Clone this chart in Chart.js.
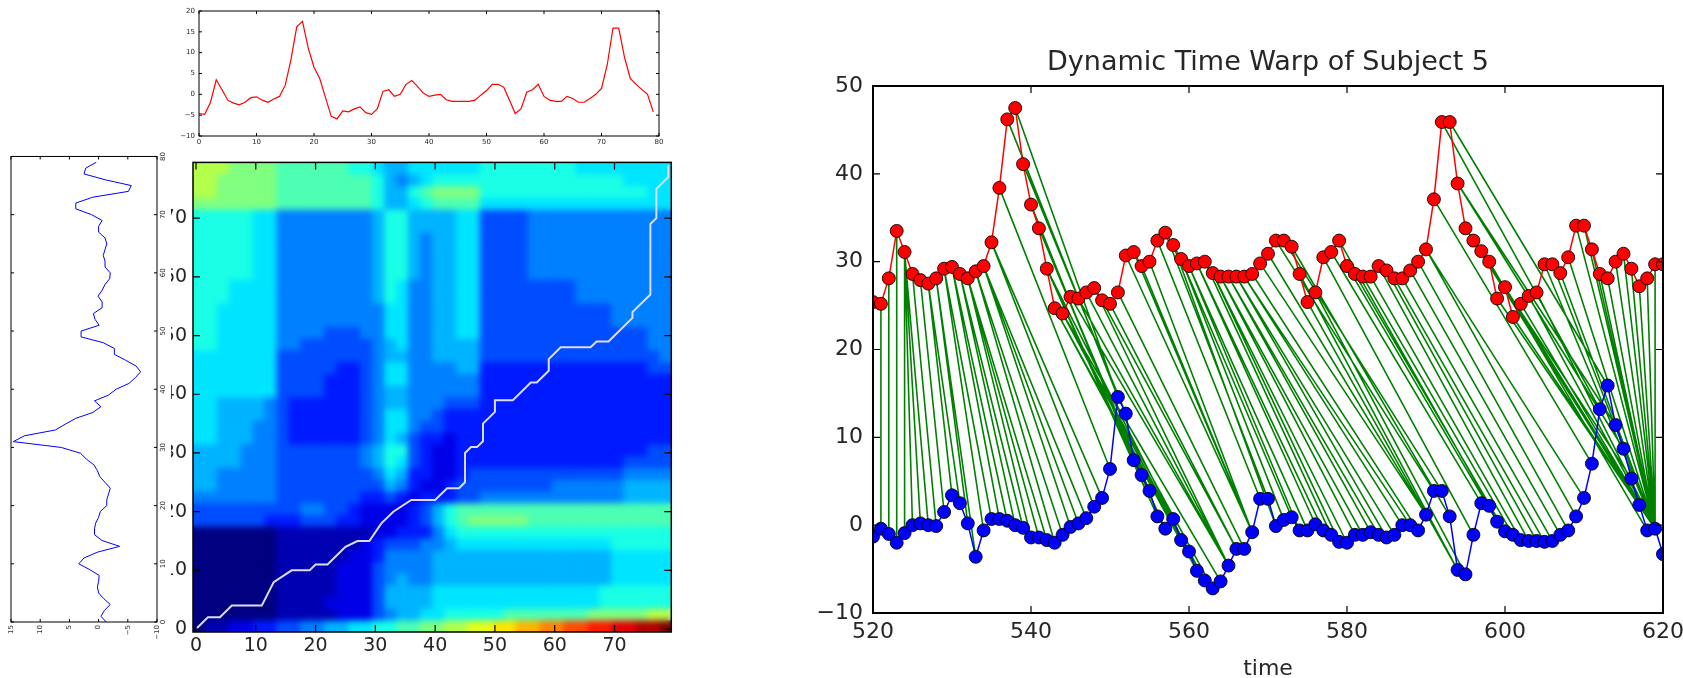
<!DOCTYPE html>
<html>
<head>
<meta charset="utf-8">
<script src="https://cdn.jsdelivr.net/npm/chart.js@4.4.0/dist/chart.umd.min.js"></script>
<style>
html, body { margin: 0; padding: 0; background: #fff; overflow: hidden; }
body { width: 1683px; height: 678px; position: relative; }
canvas { position: absolute; }
#heat { left: 150px; top: 145px; }
#top { left: 160px; top: 0px; }
#leftWrap { position: absolute; left: 0; top: 150px; width: 490px; height: 171px; background: #fff;
  transform-origin: 0 0; transform: translate(0, 490px) rotate(-90deg); }
#left { left: 0; top: 0; }
#dtw { left: 780px; top: 0px; }
</style>
</head>
<body>
<canvas id="heat" width="530" height="515"></canvas>
<canvas id="top" width="510" height="150"></canvas>
<div id="leftWrap"><canvas id="left" width="490" height="171"></canvas></div>
<canvas id="dtw" width="920" height="682"></canvas>
<script>
// raw series, t = 520 .. 620
const timeStart = 520;
const redOffset = 30;
const redSeries = [
  -4.6, -4.8, -1.9, 3.5, 1.1, -1.4, -2.1, -2.5, -1.9, -0.8,
  -0.6, -1.4, -1.9, -1.1, -0.5, 2.2, 8.4, 16.2, 17.5, 11.1,
  6.5, 3.8, -0.8, -5.3, -5.9, -4.0, -4.2, -3.5, -3.0, -4.4,
  -4.8, -3.5, 0.7, 1.1, -0.5, 0.0, 2.4, 3.3, 1.9, 0.3,
  -0.5, -0.2, 0.0, -1.3, -1.7, -1.7, -1.7, -1.7, -1.4, -0.2,
  0.9, 2.4, 2.4, 1.7, -1.4, -4.6, -3.5, 0.5, 1.1, 2.4,
  -0.5, -1.4, -1.7, -1.7, -0.5, -1.0, -1.9, -1.9, -1.0, 0.0,
  1.4, 7.1, 15.9, 15.9, 8.9, 3.8, 2.4, 1.2, 0.0, -4.2,
  -2.9, -6.3, -4.8, -3.9, -3.5, -0.3, -0.3, -1.3, 0.5, 4.1,
  4.1, 1.4, -1.4, -1.9, 0.0, 0.9, -0.8, -2.8, -1.9, -0.3,
  -0.3
];
const blueSeries = [
  -1.3, -0.4, -1.0, -2.0, -0.9, 0.0, 0.2, 0.0, -0.1, 1.5,
  3.4, 2.5, 0.2, -3.6, -0.6, 0.7, 0.7, 0.5, 0.0, -0.3,
  -1.4, -1.4, -1.7, -2.0, -1.1, -0.2, 0.2, 0.8, 2.1, 3.1,
  6.4, 14.6, 12.7, 7.4, 5.7, 3.9, 1.0, -0.4, 0.7, -1.7,
  -3.0, -5.2, -6.3, -7.2, -6.4, -4.6, -2.7, -2.7, -0.8, 3.0,
  3.0, -0.1, 0.6, 0.9, -0.6, -0.6, 0.1, -0.6, -1.1, -1.9,
  -2.0, -1.1, -1.1, -0.8, -1.1, -1.4, -1.1, 0.0, 0.0, -0.6,
  1.2, 3.9, 3.9, 1.0, -5.1, -5.6, -1.1, 2.5, 2.2, 0.4,
  -0.7, -1.1, -1.7, -1.8, -1.8, -1.9, -1.8, -1.1, -0.6, 1.0,
  3.1, 7.0, 13.2, 15.9, 11.4, 8.7, 5.3, 2.3, -0.6, -0.4,
  -3.3
];

// warping path of the right panel (offsets from 520)
const warpRed = [
  0, 1, 2, 3, 4, 4, 4, 4, 5, 6, 7, 7, 8, 8, 9, 9, 10, 10, 11, 11,
  12, 12, 12, 13, 13, 14, 14, 14, 15, 15,
  16, 17, 18, 19, 20, 21, 21, 22, 22, 22,
  23, 23, 23, 24, 24, 24, 25, 26, 27, 28, 29, 30, 31, 32, 33, 34, 35, 36, 37,
  38, 39, 39, 40, 40, 41, 41, 42, 43, 43, 44, 44, 45, 45, 46, 46, 47, 47, 48,
  49, 50, 51, 52, 53, 54, 55, 56, 57, 58, 59,
  60, 61, 62, 63, 64, 65, 66, 67, 68, 69,
  70, 70, 71, 72, 73, 74, 74, 75, 76, 77, 78,
  79, 80, 81, 82, 83, 84, 85, 86, 87, 88, 89, 90, 91, 92, 93, 94, 95, 96, 97, 98, 99, 100
];
const warpBlue = [
  0, 1, 2, 3, 4, 5, 6, 7, 8, 9, 10, 11, 12, 13, 14, 15, 16, 17, 18, 19,
  20, 21, 22, 23, 24, 25, 26, 27, 28, 29,
  30, 31, 31, 32, 33, 34, 35, 36, 37, 38,
  39, 40, 41, 42, 43, 44, 45, 45, 45, 45, 46, 46, 47, 48, 48, 48, 48, 49, 50,
  51, 52, 53, 54, 55, 56, 57, 58, 59, 60, 61, 62, 63, 64, 65, 66, 67, 68, 69,
  70, 70, 71, 72, 73, 74, 74, 75, 76, 77, 78,
  79, 80, 81, 82, 83, 84, 85, 86, 87, 88,
  89, 90, 91, 92, 93, 94, 95, 96, 97, 97, 98,
  99, 99, 99, 99, 99, 99, 99, 99, 99, 99, 99, 99, 99, 99, 99, 99, 99, 99, 99, 99, 99, 100
];

// cost matrix, 40 x 40 cells of 2x2 samples, bottom row first; level 0..k (base 36) / 20
const heatRows = [
  "0112233445566778899aabbccddeeffgghhiijjk",
  "00 00000 11 111222 4 56 67 78 88 88999999 9aaaaa bb",
  "00 00000 11 112222 4 66 66 77 77 77777777 778888 88",
  "00 00000 11 111222 4 66 66 77 77 77777777 778888 88",
  "00 00000 11 111222 4 56 55 66 66 66666666 666777 77",
  "00 00000 11 111222 4 55 55 66 66 66666666 666777 77",
  "00 00000 11 111122 3 55 55 66 66 66666666 666777 77",
  "00 00000 11 111112 3 44 45 56 77 77777777 777888 88",
  "00 00000 11 111111 2 23 33 57 88 88888888 888888 88",
  "44 44443 33 444332 2 22 34 68 9a aaaa9999 999999 99",
  "44 44444 44 554432 2 22 34 68 99 99999999 999999 99",
  "55 55555 44 444443 3 43 23 33 44 55555555 555566 66",
  "66 55555 44 444444 4 65 32 23 44 44444455 555566 66",
  "66 55555 44 444444 5 76 33 22 34 44444444 444455 55",
  "66 66555 44 444445 6 87 43 22 33 33333333 333344 44",
  "66 66555 44 444445 6 88 43 22 33 33333333 333333 44",
  "77 66655 43 333334 5 76 43 32 33 33333333 333333 33",
  "77 66655 43 333334 5 77 54 43 33 33333333 333333 33",
  "77 66665 43 333334 5 77 55 43 33 33333333 333333 33",
  "77 66665 43 333334 5 66 55 54 44 33333333 333333 33",
  "77 77777 44 443334 5 66 55 55 55 33333333 333333 33",
  "77 77777 44 443334 5 77 55 55 55 33333333 333333 33",
  "77 77777 44 444334 5 77 55 55 66 33333333 333333 44",
  "77 77777 44 444444 5 66 55 66 66 44444444 444444 45",
  "88 77777 55 444444 5 67 55 66 66 44444444 444444 55",
  "88 77777 55 554445 5 77 55 66 77 44444444 444444 55",
  "88 77777 55 555555 5 77 55 66 77 44444444 444555 55",
  "88 77777 55 555555 5 77 55 66 77 44444444 444555 55",
  "88 87777 55 555555 6 87 55 66 77 44444444 555555 55",
  "88 87777 55 555555 6 87 55 66 77 44444444 555555 55",
  "88 88877 55 555555 6 88 65 66 77 44445555 555555 55",
  "88 88877 55 555555 6 88 65 66 77 44445555 555555 55",
  "88 88877 55 555555 6 88 65 66 77 44445555 555555 55",
  "88 88877 55 555555 6 88 65 66 77 44445555 555555 55",
  "88 88877 55 555555 6 88 66 66 77 44445555 555555 55",
  "88 88877 55 555555 6 88 66 66 77 44445555 555555 55",
  "aa aaaaa 99 999999 8 66 78 99 99 77777777 777777 77",
  "bb aaaaa 99 999999 8 66 89 aa aa 88888888 888888 77",
  "bb aaaaa 99 999999 8 65 67 88 88 88888888 888877 77",
  "bb baaaa 99 999988 7 66 77 77 77 88888888 777777 77"
];

// white path drawn over the cost matrix (x = second series index, y = first series index)
const heatPathX = [0, 2, 4, 6, 11, 12, 13, 16, 19, 20, 22, 25, 27, 29, 31, 33, 36, 40, 42, 44,
  45, 45, 46, 47, 48, 48, 50, 50, 51, 53, 56, 57, 59, 59, 61, 66, 67, 69, 73, 73, 76, 76, 77, 77, 79, 79];
const heatPathY = [0, 2, 2, 4, 4, 6, 8, 10, 10, 11, 11, 14, 15, 15, 18, 20, 22, 22, 24, 24,
  25, 30, 31, 31, 32, 35, 37, 39, 39, 39, 42, 42, 44, 46, 48, 48, 49, 49, 53, 54, 57, 69, 70, 75, 77, 79];

const dtwXTicks = [520, 540, 560, 580, 600, 620];
const dtwYTicks = [-10, 0, 10, 20, 30, 40, 50];
const topXTicks = [0, 10, 20, 30, 40, 50, 60, 70, 80];
const topYTicks = [-10, -5, 0, 5, 10, 15, 20];
const leftIdxTicks = [0, 10, 20, 30, 40, 50, 60, 70, 80];
const leftValTicks = [-10, -5, 0, 5, 10, 15];
const heatTicks = [0, 10, 20, 30, 40, 50, 60, 70];
const sampleCount = 80;

Chart.defaults.font.family = 'DejaVu Sans';
Chart.defaults.color = '#262626';

const fmt = v => (v < 0 ? '\u2212' + Math.abs(v) : String(v));

function jet(v) {
  const c = x => Math.max(0, Math.min(1, x));
  const r = c(1.5 - Math.abs(4 * v - 3));
  const g = c(1.5 - Math.abs(4 * v - 2));
  const b = c(1.5 - Math.abs(4 * v - 1));
  return 'rgb(' + Math.round(r * 255) + ',' + Math.round(g * 255) + ',' + Math.round(b * 255) + ')';
}

// frame with inward ticks on all four sides, like the old matplotlib style
const mplFrame = {
  id: 'mplFrame',
  afterDatasetsDraw(chart, args, opts) {
    const { ctx, chartArea: a } = chart;
    const xs = chart.scales.x, ys = chart.scales.y;
    ctx.save();
    ctx.strokeStyle = '#000';
    ctx.lineWidth = opts.tickWidth;
    ctx.beginPath();
    xs.ticks.forEach(t => {
      const p = xs.getPixelForValue(t.value);
      ctx.moveTo(p, a.top); ctx.lineTo(p, a.top + opts.tickLen);
      ctx.moveTo(p, a.bottom); ctx.lineTo(p, a.bottom - opts.tickLen);
    });
    ys.ticks.forEach(t => {
      const p = ys.getPixelForValue(t.value);
      ctx.moveTo(a.left, p); ctx.lineTo(a.left + opts.tickLen, p);
      ctx.moveTo(a.right, p); ctx.lineTo(a.right - opts.tickLen, p);
    });
    ctx.stroke();
    ctx.lineWidth = opts.frameWidth;
    ctx.strokeRect(a.left, a.top, a.right - a.left, a.bottom - a.top);
    ctx.restore();
  }
};

// soften the cells afterwards, the way an upsampled image looks
const smoothCells = {
  id: 'smoothCells',
  afterDatasetDraw(chart, args, opts) {
    if (args.index !== opts.datasetIndex) return;
    const a = chart.chartArea;
    const x = Math.round(a.left), y = Math.round(a.top);
    const w = Math.round(a.right - a.left), h = Math.round(a.bottom - a.top);
    const tmp = document.createElement('canvas');
    tmp.width = w; tmp.height = h;
    tmp.getContext('2d').drawImage(chart.canvas, x, y, w, h, 0, 0, w, h);
    const ctx = chart.ctx;
    ctx.save();
    ctx.beginPath();
    ctx.rect(x, y, w, h);
    ctx.clip();
    ctx.filter = 'blur(' + opts.radius + 'px)';
    ctx.drawImage(tmp, x, y);
    ctx.restore();
  }
};

function axis(min, max, tickList, fontSize, pad, fit, horizontal) {
  return {
    type: 'linear', min: min, max: max,
    grid: { display: false, drawTicks: false }, border: { display: false },
    afterBuildTicks: s => { s.ticks = tickList.map(v => ({ value: v })); },
    afterFit: s => { if (horizontal) s.height = fit; else s.width = fit; },
    ticks: { autoSkip: false, maxRotation: 0, minRotation: 0, padding: pad,
      font: { size: fontSize }, callback: v => fmt(v) }
  };
}

const baseOpts = { responsive: false, animation: false, events: [],
  plugins: { legend: { display: false }, tooltip: { enabled: false } } };

// ---- top panel: first series ----
const topData = redSeries.slice(0, sampleCount).map((v, i) => ({ x: i, y: v }));
new Chart(document.getElementById('top'), {
  type: 'line',
  data: { datasets: [{ data: topData, borderColor: '#ff0000', borderWidth: 1.2, pointRadius: 0, tension: 0 }] },
  options: Object.assign({}, baseOpts, {
    layout: { padding: { top: 11, right: 11, left: 0, bottom: 0 } },
    scales: { x: axis(0, 80, topXTicks, 7, 2, 14, true), y: axis(-10, 20, topYTicks, 7, 4, 39, false) },
    plugins: Object.assign({}, baseOpts.plugins, { mplFrame: { tickLen: 3, tickWidth: 1, frameWidth: 1 } })
  }),
  plugins: [mplFrame]
});

// ---- left panel: second series (canvas turned by CSS) ----
const leftData = blueSeries.slice(0, sampleCount).map((v, i) => ({ x: i, y: v }));
new Chart(document.getElementById('left'), {
  type: 'line',
  data: { datasets: [{ data: leftData, borderColor: '#0000ff', borderWidth: 1, pointRadius: 0, tension: 0 }] },
  options: Object.assign({}, baseOpts, {
    layout: { padding: { top: 11, right: 5, left: 0, bottom: 0 } },
    scales: { x: axis(0, 80, leftIdxTicks, 7, 2, 14, true), y: axis(-10, 15, leftValTicks, 7, 3, 18, false) },
    plugins: Object.assign({}, baseOpts.plugins, { mplFrame: { tickLen: 3, tickWidth: 1, frameWidth: 1 } })
  }),
  plugins: [mplFrame]
});

// ---- cost matrix ----
const cells = [];
const cellColors = [];
heatRows.forEach((row, r) => {
  row.replace(/ /g, '').split('').forEach((ch, c) => {
    cells.push({ x: 2 * c + 0.5, y: 2 * r + 0.5 });
    cellColors.push(jet(parseInt(ch, 36) / 20));
  });
});
const pathData = heatPathX.map((x, i) => ({ x: x, y: heatPathY[i] }));
new Chart(document.getElementById('heat'), {
  type: 'scatter',
  data: { datasets: [
    { data: pathData, showLine: true, borderColor: '#dcdcfa', borderWidth: 2, pointRadius: 0, order: 1 },
    { data: cells, pointStyle: 'rect', pointRadius: 8.7, pointBorderWidth: 0,
      pointBackgroundColor: cellColors, backgroundColor: cellColors, order: 2 }
  ] },
  options: Object.assign({}, baseOpts, {
    layout: { padding: { top: 9, right: 8, left: 0, bottom: 0 } },
    scales: { x: axis(-0.5, 79.5, heatTicks, 19, 3, 28, true), y: axis(-0.5, 79.5, heatTicks, 19, 6, 43, false) },
    plugins: Object.assign({}, baseOpts.plugins, {
      mplFrame: { tickLen: 7, tickWidth: 1.2, frameWidth: 1.5 },
      smoothCells: { datasetIndex: 1, radius: 3 }
    })
  }),
  plugins: [smoothCells, mplFrame]
});

// ---- DTW panel ----
const redPts = redSeries.map((v, i) => ({ x: timeStart + i, y: v + redOffset }));
const bluePts = blueSeries.map((v, i) => ({ x: timeStart + i, y: v }));
const links = [];
warpRed.forEach((r, k) => {
  const b = warpBlue[k];
  links.push({ x: timeStart + r, y: redSeries[r] + redOffset });
  links.push({ x: timeStart + b, y: blueSeries[b] });
  links.push({ x: timeStart + b, y: null });
});
new Chart(document.getElementById('dtw'), {
  type: 'line',
  data: { datasets: [
    { data: links, borderColor: '#008000', borderWidth: 1.6, pointRadius: 0, spanGaps: false, order: 3 },
    { data: bluePts, borderColor: '#0000ff', borderWidth: 1.5, pointRadius: 6.5,
      pointBackgroundColor: '#0000ff', pointBorderColor: 'rgba(0,0,0,0.85)', pointBorderWidth: 1, order: 2 },
    { data: redPts, borderColor: '#ff0000', borderWidth: 1.5, pointRadius: 6.5,
      pointBackgroundColor: '#ff0000', pointBorderColor: 'rgba(0,0,0,0.85)', pointBorderWidth: 1, order: 1 }
  ] },
  options: Object.assign({}, baseOpts, {
    layout: { padding: { top: 0, right: 37, left: 0, bottom: 0 } },
    scales: {
      x: Object.assign(axis(520, 620, dtwXTicks, 22, 6, 69, true),
        { title: { display: true, text: 'time', font: { size: 22 }, padding: { top: 0, bottom: 0 }, color: '#262626' } }),
      y: axis(-10, 50, dtwYTicks, 22, 10, 93, false)
    },
    plugins: Object.assign({}, baseOpts.plugins, {
      title: { display: true, text: 'Dynamic Time Warp of Subject 5', fullSize: false,
        font: { size: 27, weight: 'normal' }, color: '#262626', padding: { top: 47, bottom: 6.6 } },
      mplFrame: { tickLen: 7, tickWidth: 1.2, frameWidth: 2 }
    })
  }),
  plugins: [mplFrame]
});
</script>
</body>
</html>
